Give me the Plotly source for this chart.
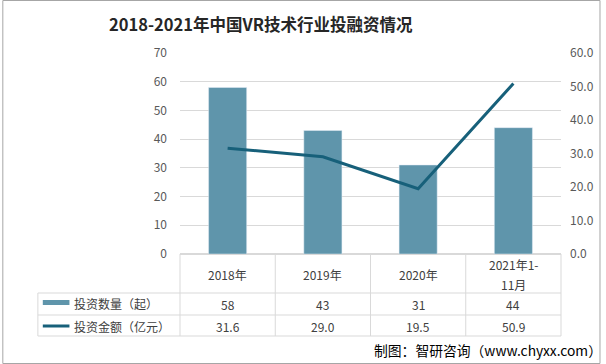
import plotly.graph_objects as go

categories = ["2018年", "2019年", "2020年", "2021年1-<br>11月"]
deal_counts = [58, 43, 31, 44]
deal_amounts = [31.6, 29.0, 19.5, 50.9]
series_names = ["投资数量（起）", "投资金额（亿元）"]
left_ticks = [0, 10, 20, 30, 40, 50, 60, 70]
right_ticks = [0, 10, 20, 30, 40, 50, 60]
title_text = "2018-2021年中国VR技术行业投融资情况"
source_text = "制图：智研咨询（www.chyxx.com）"

W, H = 606, 364
L, R, T, B = 180, 566, 53, 254
BAR_COLOR = "#5F95AB"
LINE_COLOR = "#17607A"
GRID = "#D9D9D9"
TXT = "#404040"
FONT = "Noto Sans CJK SC"


def px(x):
    return (x - L) / (R - L)


def py(y):
    return (B - y) / (B - T)


xidx = list(range(len(categories)))

fig = go.Figure()
fig.add_trace(go.Bar(x=xidx, y=deal_counts, marker_color=BAR_COLOR, width=0.4,
                     name=series_names[0], showlegend=False, hoverinfo="skip"))
fig.add_trace(go.Scatter(x=xidx, y=deal_amounts, mode="lines", yaxis="y2",
                         line=dict(color=LINE_COLOR, width=3),
                         name=series_names[1], showlegend=False, hoverinfo="skip"))

shapes = []
# table lines
rows_y = [293, 315, 336]
for yy in rows_y:
    shapes.append(dict(type="line", xref="paper", yref="paper", x0=px(36), x1=px(R),
                       y0=py(yy), y1=py(yy), line=dict(color=GRID, width=1)))
for i in range(len(categories) + 1):
    xx = L + i * (R - L) / len(categories)
    shapes.append(dict(type="line", xref="paper", yref="paper", x0=px(xx), x1=px(xx),
                       y0=py(B), y1=py(336), line=dict(color=GRID, width=1)))
shapes.append(dict(type="line", xref="paper", yref="paper", x0=px(36), x1=px(36),
                   y0=py(293), y1=py(336), line=dict(color=GRID, width=1)))
# legend swatches
shapes.append(dict(type="rect", xref="paper", yref="paper", x0=px(41), x1=px(68),
                   y0=py(305), y1=py(300), line=dict(width=0), fillcolor=BAR_COLOR))
shapes.append(dict(type="line", xref="paper", yref="paper", x0=px(41), x1=px(68),
                   y0=py(326), y1=py(326), line=dict(color=LINE_COLOR, width=3)))
# outer border
shapes.append(dict(type="rect", xref="paper", yref="paper", x0=px(0.5), x1=px(W - 0.5),
                   y0=py(H - 0.5), y1=py(0.5), line=dict(color="#A6A6A6", width=1),
                   fillcolor="rgba(0,0,0,0)", layer="below"))

ann = []
ann.append(dict(text="<b>" + title_text + "</b>", xref="paper", yref="paper",
                x=px(262), y=py(24), showarrow=False, xanchor="center", yanchor="middle",
                font=dict(size=16.5, color="#262626", family=FONT)))
ann.append(dict(text=source_text, xref="paper", yref="paper", x=px(610), y=py(350),
                showarrow=False, xanchor="right", yanchor="middle",
                font=dict(size=13.8, color="#000000", family=FONT)))
for i, c in enumerate(categories):
    parts = c.split("<br>")
    n = len(parts)
    for k, p in enumerate(parts):
        ann.append(dict(text=p, xref="x", yref="paper", x=i,
                        y=py(274 + (k - (n - 1) / 2) * 20), showarrow=False,
                        xanchor="center", yanchor="middle",
                        font=dict(size=12, color=TXT, family=FONT)))
    ann.append(dict(text=str(deal_counts[i]), xref="x", yref="paper", x=i, y=py(304),
                    showarrow=False, xanchor="center", yanchor="middle",
                    font=dict(size=12, color=TXT, family=FONT)))
    ann.append(dict(text=f"{deal_amounts[i]:.1f}", xref="x", yref="paper", x=i, y=py(326),
                    showarrow=False, xanchor="center", yanchor="middle",
                    font=dict(size=12, color=TXT, family=FONT)))
ann.append(dict(text=series_names[0], xref="paper", yref="paper", x=px(71), y=py(303),
                showarrow=False, xanchor="left", yanchor="middle",
                font=dict(size=12, color=TXT, family=FONT)))
ann.append(dict(text=series_names[1], xref="paper", yref="paper", x=px(71), y=py(326),
                showarrow=False, xanchor="left", yanchor="middle",
                font=dict(size=12, color=TXT, family=FONT)))

fig.update_layout(
    width=W, height=H,
    margin=dict(l=L, r=W - R, t=T, b=H - B, pad=0),
    paper_bgcolor="white", plot_bgcolor="white",
    font=dict(family=FONT, color=TXT),
    xaxis=dict(range=[-0.5, len(categories) - 0.5], showticklabels=False, showgrid=False,
               zeroline=False, showline=False, ticks=""),
    yaxis=dict(range=[0, 70], tickvals=left_ticks, showgrid=True, gridcolor=GRID,
               gridwidth=1, zeroline=True, zerolinecolor=GRID, showline=False,
               tickfont=dict(size=12, color="#595959"), ticks="", ticklabelstandoff=12),
    yaxis2=dict(range=[0, 60], tickvals=right_ticks, overlaying="y", side="right",
                showgrid=False, zeroline=False, showline=False, tickformat=".1f",
                tickfont=dict(size=12, color="#595959"), ticks="", ticklabelstandoff=8),
    shapes=shapes, annotations=ann, bargap=0.6,
)

fig.write_html("out.html", config={"displayModeBar": False},
               post_script="document.body.style.margin='0';document.body.style.overflow='hidden';")
